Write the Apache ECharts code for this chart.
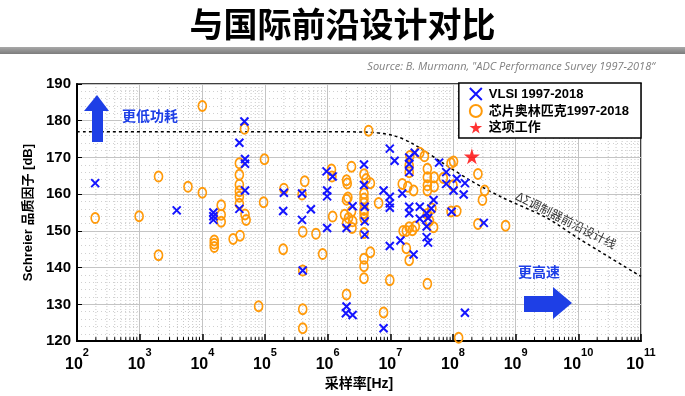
<!DOCTYPE html>
<html>
<head>
<meta charset="utf-8">
<script src="https://cdn.jsdelivr.net/npm/echarts@6/dist/echarts.min.js"></script>
<style>
  html, body { margin: 0; padding: 0; background: #fff; }
  #main { width: 685px; height: 396px; }
</style>
</head>
<body>
<div id="main"></div>
<script>
// VLSI 1997-2018 (采样率 Hz / Schreier FoM dB)
const vlsiFreq = [195, 3.9e3, 1.5e4, 1.5e4, 1.5e4, 3.9e4, 3.9e4, 4.7e4, 4.8e4, 4.8e4, 4.8e4,
  1.95e5, 2e5, 3.9e5, 3.9e5, 4e5, 5.4e5, 9.6e5, 9.8e5, 9.8e5, 9.8e5, 1.2e6, 2e6, 2e6, 1.95e6,
  2.5e6, 2.5e6, 3.8e6, 3.8e6, 3.9e6, 3.9e6, 3.9e6, 7.8e6, 9.8e6, 9.8e6, 9.8e6, 9.8e6, 9.8e6,
  7.8e6, 1.17e7, 2e7, 2e7, 2e7, 2.45e7, 1.55e7, 2e7, 2e7, 2.95e7, 2.95e7, 3.8e7, 1.45e7,
  2.35e7, 3.8e7, 4e7, 4.9e7, 4.5e7, 3.8e7, 4e7, 6e7, 7.8e7, 7.8e7, 1.02e8, 1.15e8, 1.55e8,
  1.48e8, 9.5e7, 3.1e8, 1.55e8];
const vlsiFom = [163, 155.6, 155, 154, 153, 174, 156, 179.8, 169.6, 168.3, 161,
  155.4, 160.4, 153, 160.2, 139.2, 155.9, 166.2, 161, 159.4, 150.8, 164.8, 150.8, 129.4, 127.6,
  127.1, 156.7, 168.1, 162.5, 156.6, 152.6, 149, 161, 172.4, 159.3, 157.5, 156.3, 145.9,
  123.5, 169.1, 170, 168.2, 166, 171.3, 160.2, 156.6, 154.8, 156.6, 153.3, 151.2, 147.4,
  143.6, 148.3, 146.8, 158.4, 156.1, 154.8, 153.5, 168.6, 166, 162.8, 161, 164.2, 163,
  159.9, 155.2, 152.2, 127.7];

// 芯片奥林匹克 1997-2018
const chipFreq = [195, 980, 2e3, 2e3, 5.9e3, 1e4, 1e4, 2e4, 2e4, 2e4, 1.55e4, 1.55e4, 1.55e4,
  3.1e4, 4e4, 3.9e4, 3.9e4, 3.9e4, 3.9e4, 3.9e4, 3.9e4, 4.7e4, 4.8e4, 5e4, 9.8e4, 9.5e4, 7.9e4,
  2e5, 1.95e5, 4.3e5, 3.9e5, 4e5, 6.5e5, 8.3e5, 4e5, 4e5, 4e5, 1.15e6, 1.17e6, 1.2e6, 2.4e6,
  2e6, 2.05e6, 2.1e6, 2e6, 1.86e6, 2.15e6, 2e6, 2.4e6, 2.5e6, 2.45e6, 2e6, 4.5e6, 3.8e6, 4.1e6,
  4.8e6, 3.8e6, 3.8e6, 3.8e6, 3.8e6, 3.8e6, 3.8e6, 3.8e6, 6.5e6, 4.8e6, 3.8e6, 3.8e6, 3.8e6,
  9.8e6, 7.8e6, 2e7, 2e7, 2.05e7, 2.95e7, 3.5e7, 1.55e7, 1.9e7, 2.35e7, 3.9e7, 3.9e7, 3.9e7,
  3.9e7, 3.9e7, 2e7, 1.8e7, 2.25e7, 2.5e7, 1.6e7, 1.8e7, 2e7, 3.9e7, 5e7, 5e7, 7e7, 9.3e7,
  1.02e8, 1e8, 4.6e7, 4.2e7, 4.9e7, 9.3e7, 1.15e8, 2.5e8, 3.2e8, 2.95e8, 2.5e8, 6.9e8, 1.23e8];
const chipFom = [153.5, 154, 164.8, 143.4, 162, 184, 160.4, 157, 154.4, 152.5, 147.4, 146.5, 145.6,
  147.8, 148.7, 168.4, 165.3, 162.6, 160.8, 159.3, 157.4, 177.8, 154.5, 153, 169.5, 157.8, 129.5,
  161.5, 145, 163.5, 159.9, 149.8, 149.2, 143.7, 139.2, 128.7, 123.5, 166.7, 164.8, 153.9, 167.5,
  163.8, 162.9, 159.1, 158.5, 154.4, 153.5, 152.1, 155.3, 152.6, 150.8, 132.7, 177.3, 165.4, 164.1,
  163, 160.2, 158.8, 157.5, 155.7, 154.8, 153.5, 149.4, 157.6, 144.2, 142.4, 140.4, 137.1,
  136.6, 127.8, 167.8, 166, 170.4, 171.3, 170.3, 162.8, 162, 161, 166.9, 164.6, 162.4,
  161, 154.6, 151, 150, 150.2, 151.2, 150, 145.3, 142, 135.6, 164.6, 162.1, 164.4, 168.4,
  168.9, 162.4, 156.1, 152.8, 151, 155.3, 155.4, 165.5, 161, 158.4, 151.9, 151.4, 120.9];

// 这项工作
const workFreq = [2e8];
const workFom = [170.3];

// ΔΣ调制器前沿设计线（从图上读的点）
const frontFreq = [100, 1e5, 1e6, 4e6, 1.1e7, 2.3e7, 7e7, 2e8, 6.3e8, 3.1e9, 1e10, 1e11];
const frontFom = [177, 177, 177, 176.9, 176, 173.7, 168.4, 163.5, 159, 153.6, 148, 137.6];

// 对数轴次刻度 2..9
const minorSteps = [2, 3, 4, 5, 6, 7, 8, 9];
const decades = [1e2, 1e3, 1e4, 1e5, 1e6, 1e7, 1e8, 1e9, 1e10];
const minorTicks = decades.flatMap((d) => minorSteps.map((s) => s * d));

const BLUE = "#1414ff";
const ORANGE = "#ff9a0a";
const ARROW = "#1e3fe6";
const FONT = "'Liberation Sans', 'Noto Sans CJK SC', sans-serif";
const crossPath = "path://M0,0L10,10M10,0L0,10";
const starPath = "path://M50,0L61,35L98,35L68,57L79,91L50,70L21,91L32,57L2,35L39,35Z";

const myChart = echarts.init(document.querySelector("#main"));

const option = {
  animation: false,
  backgroundColor: "#fff",
  textStyle: { fontFamily: FONT },
  title: {
    text: "与国际前沿设计对比",
    left: "center",
    top: 2,
    textStyle: { fontSize: 34, fontWeight: "bold", color: "#000", fontFamily: "'Noto Sans CJK SC', sans-serif" },
  },
  grid: {
    left: 77,
    right: 44,
    top: 84,
    bottom: 50,
    show: true,
    borderColor: "#000",
    borderWidth: 1.5,
    backgroundColor: "#fff",
  },
  legend: {
    right: 44,
    top: 83,
    orient: "vertical",
    itemGap: 3,
    itemWidth: 16,
    itemHeight: 12,
    padding: [4, 12, 4, 10],
    backgroundColor: "#fff",
    borderColor: "#000",
    borderWidth: 1.5,
    borderRadius: 0,
    textStyle: { fontSize: 13, fontWeight: "bold", color: "#000", fontFamily: FONT },
    data: [
      { name: "VLSI 1997-2018", icon: crossPath, itemStyle: { color: "rgba(0,0,0,0)", borderColor: BLUE, borderWidth: 2 } },
      { name: "芯片奥林匹克1997-2018", icon: "circle", itemStyle: { color: "rgba(0,0,0,0)", borderColor: ORANGE, borderWidth: 2 } },
      { name: "这项工作", icon: starPath, itemStyle: { color: "#ff0000" } },
    ],
  },
  xAxis: {
    type: "log",
    logBase: 10,
    min: 100,
    max: 1e11,
    name: "采样率[Hz]",
    nameLocation: "middle",
    nameGap: 31,
    nameTextStyle: { fontSize: 14, fontWeight: "bold", color: "#000" },
    axisLine: { show: true, lineStyle: { color: "#000", width: 2 } },
    axisTick: { show: true, inside: true, length: 7, lineStyle: { color: "#000", width: 1.5 } },
    splitLine: { show: true, lineStyle: { color: "#c4c4c4", width: 1 } },
    axisLabel: {
      margin: 6,
      formatter: (v) => "{b|10}{e|" + Math.round(Math.log10(v)) + "}",
      rich: {
        b: { fontSize: 16, fontWeight: "bold", color: "#000", verticalAlign: "bottom" },
        e: { fontSize: 11, fontWeight: "bold", color: "#000", padding: [0, 0, 14, 0], verticalAlign: "bottom" },
      },
    },
  },
  yAxis: {
    type: "value",
    min: 120,
    max: 190,
    interval: 10,
    name: "Schreier 品质因子 [dB]",
    nameLocation: "middle",
    nameGap: 40,
    nameTextStyle: { fontSize: 13, fontWeight: "bold", color: "#000" },
    axisLine: { show: true, lineStyle: { color: "#000", width: 2 } },
    axisTick: { show: true, inside: true, length: 5, lineStyle: { color: "#000" } },
    axisLabel: { fontSize: 15, fontWeight: "bold", color: "#000", margin: 6 },
    splitLine: { show: true, lineStyle: { color: "#c4c4c4", width: 1 } },
    minorTick: { show: false, splitNumber: 5 },
    minorSplitLine: { show: true, lineStyle: { color: "#d0d0d0", type: [1, 3] } },
  },
  series: [
    {
      // 次网格线 + 次刻度
      type: "custom",
      silent: true,
      z: 1,
      encode: { x: 0, y: 1 },
      data: minorTicks.map((v) => [v, 120]),
      renderItem(params, api) {
        const top = api.coord([api.value(0), 190]);
        const bot = api.coord([api.value(0), 120]);
        return {
          type: "group",
          children: [
            { type: "line", shape: { x1: top[0], y1: top[1], x2: bot[0], y2: bot[1] }, style: { stroke: "#c8c8c8", lineWidth: 1, lineDash: [1, 2] } },
            { type: "line", shape: { x1: bot[0], y1: bot[1], x2: bot[0], y2: bot[1] - 4 }, style: { stroke: "#000", lineWidth: 1 } },
          ],
        };
      },
    },
    {
      name: "前沿设计线",
      type: "line",
      data: frontFreq.map((f, i) => [f, frontFom[i]]),
      smooth: 0.3,
      showSymbol: false,
      silent: true,
      z: 3,
      lineStyle: { color: "#000", width: 1.5, type: [3, 3] },
    },
    {
      name: "芯片奥林匹克1997-2018",
      type: "scatter",
      z: 4,
      data: chipFreq.map((f, i) => [f, chipFom[i]]),
      symbol: "circle",
      symbolSize: [8, 10],
      itemStyle: { color: "rgba(0,0,0,0)", borderColor: ORANGE, borderWidth: 1.8, opacity: 1 },
    },
    {
      name: "VLSI 1997-2018",
      type: "scatter",
      z: 5,
      data: vlsiFreq.map((f, i) => [f, vlsiFom[i]]),
      symbol: crossPath,
      symbolSize: 8,
      itemStyle: { color: "rgba(0,0,0,0)", borderColor: BLUE, borderWidth: 2, opacity: 1 },
    },
    {
      name: "这项工作",
      type: "scatter",
      z: 6,
      data: workFreq.map((f, i) => [f, workFom[i]]),
      symbol: starPath,
      symbolSize: 16,
      itemStyle: { color: "#ff0000" },
    },
  ],
  graphic: [
    // 标题下的灰色横条
    {
      type: "rect",
      z: 100,
      shape: { x: 0, y: 47, width: 685, height: 7 },
      style: {
        fill: new echarts.graphic.LinearGradient(0, 0, 0, 1, [
          { offset: 0, color: "#a8a8a8" },
          { offset: 1, color: "#7c7c7c" },
        ]),
      },
    },
    {
      type: "text",
      z: 100,
      right: 30,
      top: 61,
      style: {
        text: "Source: B. Murmann, \"ADC Performance Survey 1997-2018“",
        font: "italic 11px 'Open Sans', 'DejaVu Sans', sans-serif",
        fill: "#808080",
      },
    },
    // 更低功耗 向上箭头
    {
      type: "polygon",
      z: 100,
      shape: { points: [[97, 95], [109, 111], [103, 111], [103, 142], [92, 142], [92, 111], [84, 111]] },
      style: { fill: ARROW },
    },
    {
      type: "text",
      z: 100,
      left: 122,
      top: 109,
      style: { text: "更低功耗", font: "bold 14px 'Noto Sans CJK SC', sans-serif", fill: ARROW, backgroundColor: "#fff" },
    },
    // 更高速 向右箭头
    {
      type: "polygon",
      z: 100,
      shape: { points: [[524, 296], [553, 296], [553, 287], [572, 303], [553, 319], [553, 312], [524, 312]] },
      style: { fill: ARROW },
    },
    {
      type: "text",
      z: 100,
      left: 518,
      top: 265,
      style: { text: "更高速", font: "bold 14px 'Noto Sans CJK SC', sans-serif", fill: ARROW, backgroundColor: "#fff" },
    },
    // 前沿设计线标注
    {
      type: "text",
      z: 100,
      x: 566,
      y: 220,
      rotation: -0.47,
      style: {
        text: "ΔΣ调制器前沿设计线",
        font: "12px 'Noto Sans CJK SC', sans-serif",
        fill: "#333",
        align: "center",
        verticalAlign: "middle",
      },
    },
  ],
};

myChart.setOption(option);
</script>
</body>
</html>
